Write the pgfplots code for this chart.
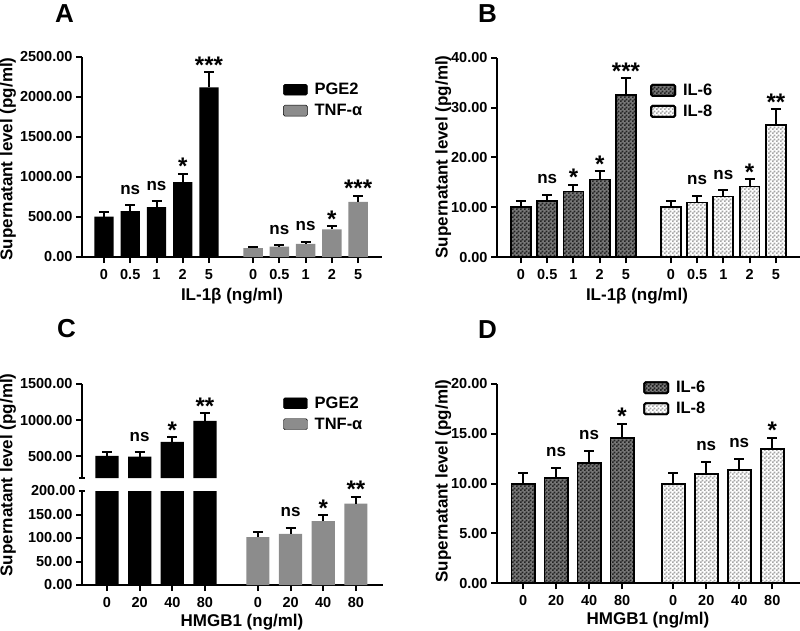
\documentclass[border=0pt]{standalone}
\usepackage{fontspec}
\setmainfont{Liberation Sans}
\usepackage{pgfplots}
\pgfplotsset{compat=1.18}
\usetikzlibrary{patterns.meta}
\definecolor{tnfgray}{RGB}{140,140,140}
\definecolor{ilsixbg}{RGB}{120,120,120}
\definecolor{ilsixsq}{RGB}{35,35,35}
\definecolor{ileightsq}{RGB}{165,165,165}
\tikzdeclarepattern{
  name=finecheck, type=uncolored,
  bounding box={(0pt,0pt) and (4pt,4pt)},
  tile size={(4pt,4pt)},
  code={\pgfpathrectangle{\pgfpoint{0pt}{0pt}}{\pgfpoint{2.05pt}{2.05pt}}
        \pgfpathrectangle{\pgfpoint{2pt}{2pt}}{\pgfpoint{2.05pt}{2.05pt}}
        \pgfusepath{fill}}
}
\tikzset{
  ns/.style={anchor=base, yshift=11pt, font=\fontsize{17}{17}\selectfont\bfseries},
  st/.style={anchor=base, yshift=-1pt, font=\fontsize{24}{24}\selectfont\bfseries},
}
\pgfplotsset{
  panel/.style={
    scale only axis, clip mode=individual,
    axis x line*=bottom, axis y line*=left,
    axis line style={line width=2pt, -},
    every tick/.style={black, line width=2pt},
    major tick length=6pt, tick align=outside,
    ymin=0,
    ticklabel style={font=\fontsize{14.5}{14.5}\selectfont\bfseries},
    xticklabel style={yshift=-3pt},
    yticklabel style={/pgf/number format/.cd, fixed, fixed zerofill, precision=2, 1000 sep={}, assume math mode=true},
    scaled y ticks=false,
    legend style={draw=none, fill=none, anchor=north west, inner sep=0pt,
      font=\fontsize{16.5}{16.5}\selectfont\bfseries, row sep=6pt, column sep=6pt,
      nodes={inner sep=1pt}},
    legend cell align=left,
  },
  sw/.style={legend image code/.code={\draw[##1, rounded corners=1.5pt] (0pt,-5.5pt) rectangle (24pt,5.5pt);}},
  errs/.style={error bars/.cd, y dir=plus, y explicit,
    error bar style={draw=black, line width=2pt, solid},
    error mark options={draw=black, line width=2pt, mark size=5pt, rotate=90}},
  blk/.style={ybar, bar shift=0pt, fill=black, draw=none},
  gry/.style={ybar, bar shift=0pt, fill=tnfgray, draw=none},
  six/.style={ybar, bar shift=0pt, draw=black, line width=1.8pt, pattern=finecheck, pattern color=ilsixsq, preaction={fill=ilsixbg}},
  eight/.style={ybar, bar shift=0pt, draw=black, line width=1.8pt, pattern=finecheck, pattern color=ileightsq, preaction={fill=white}},
}
\begin{document}
\begin{tikzpicture}
\path[use as bounding box] (0pt,0pt) rectangle (800pt,630pt);
% ---------------- Panel A ----------------
\begin{axis}[panel, at={(82pt,373pt)}, anchor=south west, width=300pt, height=200pt,
  xmin=-0.838, xmax=10.59, ymax=2500, ytick={0,500,1000,1500,2000,2500},
  xtick={0,1,2,3,4,5.68,6.68,7.68,8.68,9.68}, xticklabels={0,0.5,1,2,5,0,0.5,1,2,5},
  bar width=0.74,
  legend style={at={(0.67,0.875)}}]
\addplot[blk, sw, errs] coordinates {(0,505) +- (0,57) (1,575) +- (0,71) (2,625) +- (0,75) (3,935) +- (0,105) (4,2120) +- (0,190)};
\addlegendentry{PGE2}
\addplot[gry, sw, errs] coordinates {(5.68,110) +- (0,12) (6.68,130) +- (0,15) (7.68,165) +- (0,25) (8.68,345) +- (0,40) (9.68,690) +- (0,75)};
\addlegendentry{TNF-α}
\node[ns] at (axis cs:1,646) {ns};
\node[ns] at (axis cs:2,700) {ns};
\node[st] at (axis cs:3,1040) {*};
\node[st] at (axis cs:4,2310) {***};
\node[ns] at (axis cs:6.68,145) {ns};
\node[ns] at (axis cs:7.68,190) {ns};
\node[st] at (axis cs:8.68,385) {*};
\node[st] at (axis cs:9.68,765) {***};
\end{axis}
% ---------------- Panel B ----------------
\begin{axis}[panel, at={(497pt,372.7pt)}, anchor=south west, width=303pt, height=199.6pt,
  xmin=-0.914, xmax=10.63, ymax=40, ytick={0,10,20,30,40},
  xtick={0,1,2,3,4,5.71,6.71,7.71,8.71,9.71}, xticklabels={0,0.5,1,2,5,0,0.5,1,2,5},
  bar width=0.76,
  legend style={at={(0.505,0.875)}}]
\addplot[six, sw, errs] coordinates {(0,10.0) +- (0,1.2) (1,11.3) +- (0,1.2) (2,13.2) +- (0,1.3) (3,15.6) +- (0,1.6) (4,32.5) +- (0,3.4)};
\addlegendentry{IL-6}
\addplot[eight, sw, errs] coordinates {(5.71,10.0) +- (0,1.2) (6.71,11.0) +- (0,1.3) (7.71,12.2) +- (0,1.2) (8.71,14.2) +- (0,1.4) (9.71,26.5) +- (0,3.2)};
\addlegendentry{IL-8}
\node[ns] at (axis cs:1,12.5) {ns};
\node[st] at (axis cs:2,14.5) {*};
\node[st] at (axis cs:3,17.2) {*};
\node[st] at (axis cs:4,35.9) {***};
\node[ns] at (axis cs:6.71,12.3) {ns};
\node[ns] at (axis cs:7.71,13.4) {ns};
\node[st] at (axis cs:8.71,15.6) {*};
\node[st] at (axis cs:9.71,29.7) {**};
\end{axis}
% ---------------- Panel C (upper part) ----------------
\begin{axis}[panel, at={(82pt,152pt)}, anchor=south west, width=301pt, height=94pt,
  axis x line=none, xtick=\empty,
  xmin=-0.765, xmax=8.45, ymin=200, ymax=1500, ytick={500,1000,1500},
  extra y ticks={200}, extra y tick labels={}, extra y tick style={tick align=center},
  bar width=0.71,
  legend style={at={(0.668,0.877)}}]
\addplot[blk, sw, errs] coordinates {(0,505) +- (0,60) (1,495) +- (0,58) (2,700) +- (0,65) (3,990) +- (0,105)};
\addlegendentry{PGE2}
\addlegendimage{gry, sw}
\addlegendentry{TNF-α}
\node[ns] at (axis cs:1,553) {ns};
\node[st] at (axis cs:2,765) {*};
\node[st] at (axis cs:3,1095) {**};
\end{axis}
% ---------------- Panel C (lower part) ----------------
\begin{axis}[panel, at={(82pt,45pt)}, anchor=south west, width=301pt, height=94pt,
  xmin=-0.765, xmax=8.45, ymin=0, ymax=200, ytick={0,50,100,150},
  extra y ticks={200}, extra y tick style={tick align=center},
  xtick={0,1,2,3,4.62,5.62,6.62,7.62}, xticklabels={0,20,40,80,0,20,40,80},
  bar width=0.71]
\addplot[blk] coordinates {(0,505) (1,495) (2,700) (3,990)};
\addplot[gry, errs] coordinates {(4.62,102) +- (0,10) (5.62,109) +- (0,13) (6.62,136) +- (0,12) (7.62,173) +- (0,15)};
\node[ns] at (axis cs:5.62,122) {ns};
\node[st] at (axis cs:6.62,148) {*};
\node[st] at (axis cs:7.62,188) {**};
\end{axis}
% ---------------- Panel D ----------------
\begin{axis}[panel, at={(497pt,46.7pt)}, anchor=south west, width=303pt, height=199.3pt,
  xmin=-0.79, xmax=8.39, ymax=20, ytick={0,5,10,15,20},
  xtick={0,1,2,3,4.55,5.55,6.55,7.55}, xticklabels={0,20,40,80,0,20,40,80},
  bar width=0.70,
  legend style={at={(0.482,1.02)}}]
\addplot[six, sw, errs] coordinates {(0,10.0) +- (0,1.1) (1,10.6) +- (0,1.0) (2,12.1) +- (0,1.2) (3,14.6) +- (0,1.4)};
\addlegendentry{IL-6}
\addplot[eight, sw, errs] coordinates {(4.55,10.0) +- (0,1.1) (5.55,11.0) +- (0,1.2) (6.55,11.4) +- (0,1.1) (7.55,13.5) +- (0,1.1)};
\addlegendentry{IL-8}
\node[ns] at (axis cs:1,11.6) {ns};
\node[ns] at (axis cs:2,13.3) {ns};
\node[st] at (axis cs:3,16.0) {*};
\node[ns] at (axis cs:5.55,12.2) {ns};
\node[ns] at (axis cs:6.55,12.5) {ns};
\node[st] at (axis cs:7.55,14.6) {*};
\end{axis}
% ---------------- Titles and axis labels ----------------
\begin{scope}[every node/.style={font=\fontsize{26}{26}\selectfont\bfseries, anchor=base west, inner sep=0pt}]
\node at (55pt,607pt) {A};
\node at (478pt,607pt) {B};
\node at (57pt,293pt) {C};
\node at (478pt,292pt) {D};
\end{scope}
\begin{scope}[every node/.style={font=\fontsize{17}{17}\selectfont\bfseries, inner sep=0pt}]
\node[anchor=center] at (232pt,334pt) {IL-1β (ng/ml)};
\node[anchor=center] at (637pt,334pt) {IL-1β (ng/ml)};
\node[anchor=center] at (242pt,8pt) {HMGB1 (ng/ml)};
\node[anchor=center] at (648pt,10pt) {HMGB1 (ng/ml)};
\node[rotate=90, anchor=base] at (12.5pt,471pt) {Supernatant level (pg/ml)};
\node[rotate=90, anchor=base] at (447.5pt,473pt) {Supernatant level (pg/ml)};
\node[rotate=90, anchor=base] at (12.5pt,155pt) {Supernatant level (pg/ml)};
\node[rotate=90, anchor=base] at (447.5pt,149pt) {Supernatant level (pg/ml)};
\end{scope}
\end{tikzpicture}
\end{document}
